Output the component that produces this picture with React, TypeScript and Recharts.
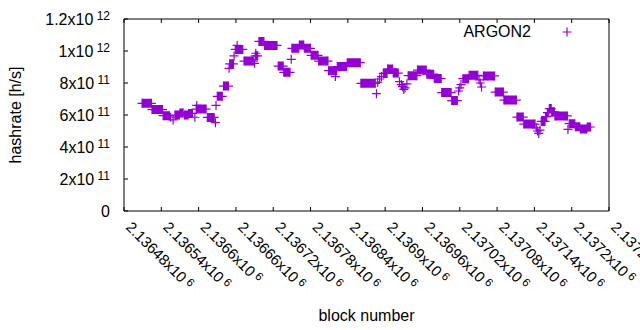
import { LineChart, Line, XAxis, YAxis, Legend } from "recharts"

const FONT = "'Liberation Sans', Arial, sans-serif"
const PURPLE = "#9400d3"

// x axis: block numbers
const blockDomain = [2136480, 2137260]
const blockTicks = [
  2136480, 2136540, 2136600, 2136660, 2136720, 2136780, 2136840,
  2136900, 2136960, 2137020, 2137080, 2137140, 2137200, 2137260,
]
const blockTickMantissas = [
  "2.13648", "2.13654", "2.1366", "2.13666", "2.13672", "2.13678", "2.13684",
  "2.1369", "2.13696", "2.13702", "2.13708", "2.13714", "2.1372", "2.13726",
]

// y axis: hashrate in h/s
const hashrateDomain = [0, 1.2e12]
const hashrateTicks = [0, 2e11, 4e11, 6e11, 8e11, 1e12, 1.2e12]
const hashrateTickMantissas = ["0", "2", "4", "6", "8", "1", "1.2"]
const hashrateTickExponents = ["", "11", "11", "11", "11", "12", "12"]

// runs of blocks sharing one hashrate value: [first block, last block, hashrate]
const hashrateRuns: [number, number, number][] = [
  [2136509, 2136524, 6.73e11],
  [2136525, 2136542, 6.34e11],
  [2136543, 2136553, 5.96e11],
  [2136555, 2136555, 5.86e11],
  [2136559, 2136559, 5.69e11],
  [2136562, 2136569, 6.0e11],
  [2136570, 2136575, 6.12e11],
  [2136577, 2136583, 6.0e11],
  [2136584, 2136590, 6.1e11],
  [2136594, 2136594, 5.86e11],
  [2136596, 2136612, 6.37e11],
  [2136597, 2136597, 6.6e11],
  [2136614, 2136625, 5.85e11],
  [2136627, 2136627, 5.52e11],
  [2136628, 2136628, 6.6e11],
  [2136630, 2136638, 7.17e11],
  [2136640, 2136648, 7.81e11],
  [2136649, 2136649, 8.92e11],
  [2136650, 2136656, 9.2e11],
  [2136657, 2136657, 9.69e11],
  [2136659, 2136671, 1.01e12],
  [2136662, 2136662, 1.035e12],
  [2136673, 2136688, 9.37e11],
  [2136690, 2136690, 9.23e11],
  [2136691, 2136695, 9.7e11],
  [2136692, 2136692, 9.86e11],
  [2136697, 2136705, 1.06e12],
  [2136706, 2136726, 1.035e12],
  [2136728, 2136736, 9.06e11],
  [2136737, 2136747, 8.67e11],
  [2136749, 2136749, 9.48e11],
  [2136750, 2136761, 1.017e12],
  [2136762, 2136769, 1.037e12],
  [2136770, 2136780, 1.017e12],
  [2136781, 2136792, 9.73e11],
  [2136793, 2136808, 9.37e11],
  [2136809, 2136822, 8.77e11],
  [2136820, 2136820, 8.4e11],
  [2136823, 2136838, 9.03e11],
  [2136839, 2136860, 9.27e11],
  [2136861, 2136884, 7.98e11],
  [2136886, 2136886, 7.33e11],
  [2136888, 2136888, 8.05e11],
  [2136891, 2136891, 8.25e11],
  [2136894, 2136894, 8.4e11],
  [2136897, 2136903, 8.6e11],
  [2136904, 2136912, 8.88e11],
  [2136913, 2136921, 8.62e11],
  [2136923, 2136923, 8.08e11],
  [2136926, 2136926, 7.9e11],
  [2136928, 2136928, 7.77e11],
  [2136930, 2136930, 7.6e11],
  [2136932, 2136932, 7.7e11],
  [2136935, 2136935, 7.95e11],
  [2136937, 2136951, 8.46e11],
  [2136952, 2136966, 8.81e11],
  [2136967, 2136978, 8.55e11],
  [2136979, 2136990, 8.28e11],
  [2136991, 2137006, 7.4e11],
  [2137007, 2137016, 6.9e11],
  [2137018, 2137018, 7.5e11],
  [2137020, 2137020, 7.7e11],
  [2137022, 2137022, 7.9e11],
  [2137025, 2137034, 8.27e11],
  [2137035, 2137049, 8.48e11],
  [2137051, 2137051, 8.2e11],
  [2137053, 2137053, 8.0e11],
  [2137055, 2137055, 7.75e11],
  [2137058, 2137076, 8.44e11],
  [2137077, 2137090, 7.43e11],
  [2137091, 2137111, 6.93e11],
  [2137112, 2137122, 5.87e11],
  [2137123, 2137141, 5.43e11],
  [2137143, 2137143, 5.2e11],
  [2137145, 2137145, 5.0e11],
  [2137147, 2137147, 4.85e11],
  [2137149, 2137149, 5.05e11],
  [2137151, 2137157, 5.6e11],
  [2137158, 2137160, 5.9e11],
  [2137161, 2137163, 6.15e11],
  [2137164, 2137167, 6.4e11],
  [2137168, 2137172, 6.2e11],
  [2137173, 2137193, 5.94e11],
  [2137194, 2137194, 5.1e11],
  [2137196, 2137205, 5.46e11],
  [2137206, 2137213, 5.27e11],
  [2137214, 2137224, 5.13e11],
  [2137225, 2137230, 5.25e11],
]

// each run becomes a segment, a null row breaks the line between runs
const chartData = hashrateRuns.flatMap(([first, last, hashrate]) =>
  first === last
    ? [{ block: first, hashrate }, { block: first, hashrate: null }]
    : [
        { block: first, hashrate },
        { block: last, hashrate },
        { block: last, hashrate: null },
      ]
)

const PlusDot = (props: any) => {
  const { cx, cy, value, index } = props
  if (value == null || cy == null || cx == null) return <g key={`p-${index}`} />
  return (
    <path
      key={`p-${index}`}
      d={`M${cx - 4.5},${cy}h9M${cx},${cy - 4.5}v9`}
      stroke={PURPLE}
      strokeWidth={1.2}
      fill="none"
    />
  )
}

const BlockTick = ({ x, y, index }: any) => (
  <text
    transform={`translate(${x + 1},${y + 17}) rotate(45)`}
    fontSize={15}
    fontFamily={FONT}
    fill="#000"
  >
    {blockTickMantissas[index]}x10
    <tspan dy={-4} fontSize={11.5}>
      {" 6"}
    </tspan>
  </text>
)

const HashrateTick = ({ x, y, index }: any) => (
  <text x={x} y={y} dy={5.5} textAnchor="end" fontSize={16} fontFamily={FONT} fill="#000">
    {hashrateTickMantissas[index]}
    {hashrateTickExponents[index] && (
      <>
        x10
        <tspan dy={-4.5} fontSize={12}>
          {" " + hashrateTickExponents[index]}
        </tspan>
      </>
    )}
  </text>
)

const NoTick = () => <g />

const renderLegend = () => (
  <svg width={130} height={20} style={{ display: "block" }}>
    <text x={76} y={15} textAnchor="end" fontSize={16} fontFamily={FONT} fill="#000">
      ARGON2
    </text>
    <path d="M107.5,10h9M112,5.5v9" stroke={PURPLE} strokeWidth={1.2} />
  </svg>
)

export default function App() {
  return (
    <div style={{ position: "absolute", left: 0, top: 0, background: "#fff" }}>
      <LineChart
        width={640}
        height={330}
        data={chartData}
        margin={{ top: 18, right: 30, bottom: 0, left: 0 }}
      >
        <XAxis
          dataKey="block"
          type="number"
          domain={blockDomain}
          ticks={blockTicks}
          interval={0}
          height={119}
          tickSize={-4}
          tickMargin={4}
          tick={BlockTick}
          axisLine={{ stroke: "#000" }}
          tickLine={{ stroke: "#000" }}
          label={{
            content: ({ viewBox }: any) => (
              <text
                x={viewBox.x + viewBox.width / 2}
                y={viewBox.y + 110}
                textAnchor="middle"
                fontSize={16}
                fontFamily={FONT}
                fill="#000"
              >
                block number
              </text>
            ),
          }}
        />
        <XAxis
          xAxisId="top"
          orientation="top"
          dataKey="block"
          type="number"
          domain={blockDomain}
          ticks={blockTicks}
          interval={0}
          height={1}
          tickSize={-4}
          tick={NoTick}
          axisLine={{ stroke: "#000" }}
          tickLine={{ stroke: "#000" }}
        />
        <YAxis
          type="number"
          domain={hashrateDomain}
          ticks={hashrateTicks}
          interval={0}
          width={124}
          tickSize={-4}
          tickMargin={18}
          tick={HashrateTick}
          axisLine={{ stroke: "#000" }}
          tickLine={{ stroke: "#000" }}
          label={{
            content: ({ viewBox }: any) => (
              <text
                transform={`translate(${viewBox.x + 21},${viewBox.y + viewBox.height / 2}) rotate(-90)`}
                textAnchor="middle"
                fontSize={16}
                fontFamily={FONT}
                fill="#000"
              >
                hashrate [h/s]
              </text>
            ),
          }}
        />
        <YAxis
          yAxisId="right"
          orientation="right"
          type="number"
          domain={hashrateDomain}
          ticks={hashrateTicks}
          interval={0}
          width={1}
          tickSize={-4}
          tick={NoTick}
          axisLine={{ stroke: "#000" }}
          tickLine={{ stroke: "#000" }}
        />
        <Legend
          layout="vertical"
          align="center"
          verticalAlign="middle"
          content={renderLegend}
          wrapperStyle={{ top: 22, left: 455, width: 130 }}
        />
        <Line
          type="linear"
          dataKey="hashrate"
          stroke={PURPLE}
          strokeWidth={9}
          strokeLinecap="butt"
          dot={PlusDot}
          activeDot={false}
          connectNulls={false}
          isAnimationActive={false}
        />
      </LineChart>
    </div>
  )
}
